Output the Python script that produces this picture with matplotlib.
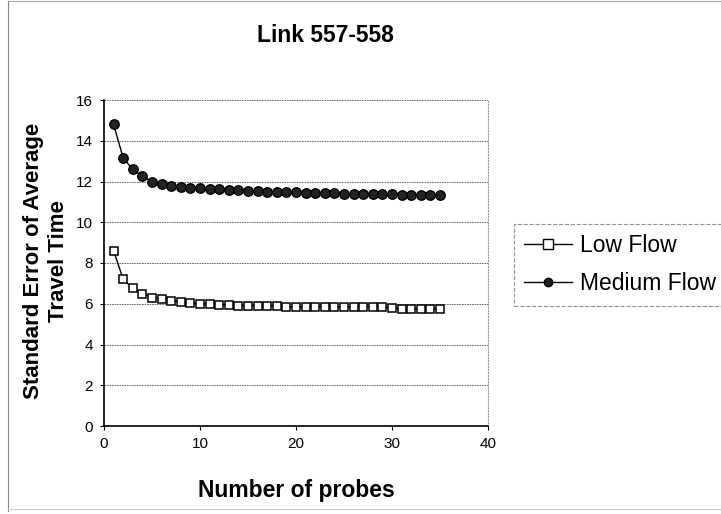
import matplotlib
matplotlib.use("Agg")
import matplotlib.pyplot as plt
from matplotlib.lines import Line2D

plt.rcParams['font.family'] = ['Liberation Sans', 'DejaVu Sans']

probes = list(range(1, 36))
low_flow = [8.6, 7.2, 6.75, 6.5, 6.3, 6.25, 6.15, 6.1, 6.05, 6.0,
            6.0, 5.95, 5.95, 5.9, 5.9, 5.9, 5.9, 5.9, 5.85, 5.85,
            5.85, 5.85, 5.85, 5.85, 5.85, 5.85, 5.85, 5.85, 5.85, 5.8,
            5.75, 5.75, 5.75, 5.75, 5.75]
medium_flow = [14.8, 13.15, 12.6, 12.25, 12.0, 11.9, 11.8, 11.75, 11.7, 11.7,
               11.65, 11.65, 11.6, 11.6, 11.55, 11.55, 11.5, 11.5, 11.5, 11.5,
               11.45, 11.45, 11.45, 11.45, 11.4, 11.4, 11.4, 11.4, 11.4, 11.4,
               11.35, 11.35, 11.35, 11.35, 11.35]
x_ticks = [0, 10, 20, 30, 40]
y_ticks = [0, 2, 4, 6, 8, 10, 12, 14, 16]

fig = plt.figure(figsize=(7.21, 5.14), dpi=100)
ax = fig.add_axes([104/721, 1-426/514, (488-104)/721, (426-100)/514])

ax.plot(probes, low_flow, color='black', lw=1.0, marker='s', markersize=6.3,
        markerfacecolor='white', markeredgecolor='black', markeredgewidth=1.1,
        label='Low Flow')
ax.plot(probes, medium_flow, color='black', lw=1.0, marker='o', markersize=6.8,
        markerfacecolor='#222222', markeredgecolor='black', label='Medium Flow')

ax.set_xlim(0, 40)
ax.set_ylim(0, 16)
ax.set_xticks(x_ticks)
ax.set_yticks(y_ticks)
ax.tick_params(labelsize=11, length=3, direction='out', pad=5)
ax.grid(axis='y', color='#555555', linestyle=(0, (2, 1)), linewidth=0.6)
ax.set_axisbelow(True)
ax.spines['top'].set_visible(False)
ax.spines['right'].set_color('#999999')
ax.spines['right'].set_linestyle(':')
ax.spines['right'].set_linewidth(0.8)
ax.spines['left'].set_linewidth(1.2)
ax.spines['bottom'].set_linewidth(1.2)

fig.text(325/721, 1-35/514, 'Link 557-558', fontsize=16.5, fontweight='bold',
         ha='center', va='center')
fig.text(296/721, 1-490/514, 'Number of probes', fontsize=16.5, fontweight='bold',
         ha='center', va='center')
fig.text(46/721, 1-261/514, 'Standard Error of Average\nTravel Time', fontsize=16,
         fontweight='bold', rotation=90, ha='center', va='center',
         multialignment='center', linespacing=1.25)

handles = [
    Line2D([], [], color='black', lw=1.0, marker='s', markersize=7,
           markerfacecolor='white', markeredgecolor='black'),
    Line2D([], [], color='black', lw=1.0, marker='o', markersize=6,
           markerfacecolor='#222222', markeredgecolor='black'),
]
leg = fig.legend(handles, ['Low Flow', 'Medium Flow'], loc='upper left',
                 bbox_to_anchor=(514/721, 1-224/514),
                 fontsize=16.5, frameon=True, fancybox=False, edgecolor='#777777',
                 handlelength=2.1, handletextpad=0.35, borderpad=0.45,
                 labelspacing=0.65, borderaxespad=0)
leg.get_frame().set_linestyle('--')
leg.get_frame().set_linewidth(0.8)

fig.add_artist(Line2D([8/721, 8/721], [0.005, 0.998], transform=fig.transFigure,
                      color='#888888', lw=0.8))
fig.add_artist(Line2D([8/721, 1], [0.998, 0.998], transform=fig.transFigure,
                      color='#aaaaaa', lw=0.8))
fig.add_artist(Line2D([8/721, 1], [0.01, 0.01], transform=fig.transFigure,
                      color='#cccccc', lw=0.8))

fig.savefig('out.png', dpi=100)
